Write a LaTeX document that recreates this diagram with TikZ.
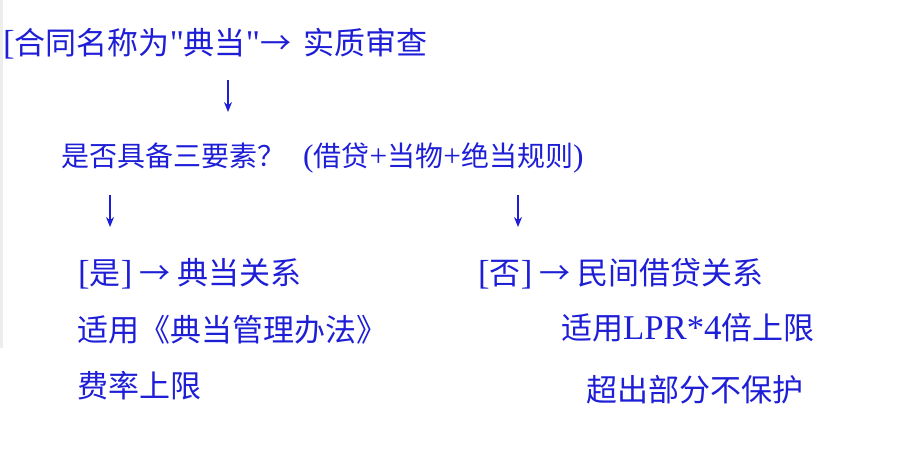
\documentclass[tikz,border=0pt]{standalone}
\usepackage{fontspec}
\setmainfont{Noto Sans CJK SC}
\newfontfamily\latfont[Scale=1.12]{Liberation Serif}
\newcommand{\lat}[1]{{\latfont #1}}
\usepackage{xcolor}
\definecolor{txtblue}{RGB}{30,30,215}
\usetikzlibrary{arrows.meta}

\begin{document}
\begin{tikzpicture}[x=1pt,y=-1pt,
  txt/.style={anchor=base west,inner sep=0pt,text=txtblue,font=\fontsize{31}{31}\selectfont},
  small/.style={txt,font=\fontsize{28}{28}\selectfont},
  arr/.style={draw=txtblue,line width=1.4pt,-{Stealth[length=10pt,width=8pt]}}]
\useasboundingbox (0,0) rectangle (911,474);
\draw[black!7,line width=2.5pt] (1.5,0) -- (1.5,348);
\node[txt] (head) at (3,54) {\lat{[}合同名称为\lat{"}典当\lat{"}→\hspace{12pt}实质审查};
\node[small] (ask) at (61,166) {是否具备三要素？\hspace{18pt}\lat{(}借贷\lat{+}当物\lat{+}绝当规则\lat{)}};
\node[txt] (yes) at (78,284) {\lat{[}是\lat{]} → 典当关系};
\node[txt] (yes2) at (77,341) {适用《典当管理办法》};
\node[txt] (yes3) at (77,397) {费率上限};
\node[txt] (no) at (478,284) {\lat{[}否\lat{]} → 民间借贷关系};
\node[txt] (no2) at (561,339) {适用\lat{LPR*4}倍上限};
\node[txt] (no3) at (586,401) {超出部分不保护};
\coordinate (d1a) at (228,80); \coordinate (d1b) at (228,112);
\coordinate (d2a) at (110,195); \coordinate (d2b) at (110,227);
\coordinate (d3a) at (518,195); \coordinate (d3b) at (518,227);
\draw[arr] (d1a) -- (d1b); \draw[arr] (d2a) -- (d2b); \draw[arr] (d3a) -- (d3b);
\end{tikzpicture}
\end{document}
